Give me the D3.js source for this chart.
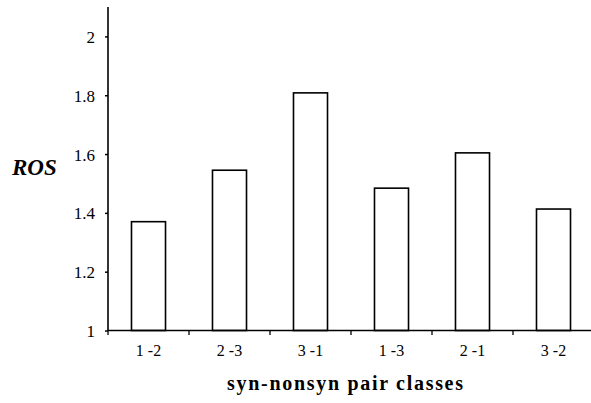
<!DOCTYPE html>
<html>
<head>
<meta charset="utf-8">
<script src="https://cdn.jsdelivr.net/npm/d3@7/dist/d3.min.js"></script>
<style>
  html, body { margin: 0; padding: 0; background: #fff; }
  svg { display: block; }
  text { font-family: "Liberation Serif", "Times New Roman", serif; fill: #000; }
</style>
</head>
<body>
<svg id="chart" width="591" height="403"></svg>
<script>
// ROS per synonymous / nonsynonymous pair class
const categories = ["1-2", "2-3", "3-1", "1-3", "2-1", "3-2"];
const rosValues = [1.37, 1.545, 1.808, 1.484, 1.604, 1.413];
const yTicks = [1, 1.2, 1.4, 1.6, 1.8, 2];

const svg = d3.select("#chart");
const serif = '"Liberation Serif", "Times New Roman", serif';

const x = d3.scaleBand()
  .domain(categories)
  .range([108, 594])
  .paddingInner(0.58)
  .paddingOuter(0.29);

const y = d3.scaleLinear()
  .domain([1, 2.1])
  .range([330.5, 7]);

// bars
svg.append("g")
  .selectAll("rect")
  .data(categories)
  .join("rect")
  .attr("x", d => x(d))
  .attr("width", x.bandwidth())
  .attr("y", (d, i) => y(rosValues[i]))
  .attr("height", (d, i) => y(1) - y(rosValues[i]))
  .attr("fill", "#fff")
  .attr("stroke", "#000")
  .attr("stroke-width", 1.6);

// y axis
const yAxis = svg.append("g")
  .attr("transform", `translate(${x.range()[0]},0)`)
  .attr("font-family", serif)
  .attr("font-size", 17)
  .call(d3.axisLeft(y).tickValues(yTicks).tickFormat(d3.format("")).tickSize(3).tickPadding(10));
yAxis.attr("font-family", serif).attr("font-size", 17);
yAxis.select(".domain").attr("d", `M0,${y(2.1)}V${y(1)}`).attr("stroke-width", 1.6);
yAxis.selectAll(".tick line").attr("stroke-width", 1.5);
yAxis.selectAll(".tick text").attr("dy", "0.36em");

// x axis with ticks on category boundaries
const xAxis = svg.append("g")
  .attr("transform", `translate(0,${y(1)})`);
xAxis.append("line")
  .attr("x1", x.range()[0]).attr("x2", 591)
  .attr("stroke", "#000").attr("stroke-width", 1.6);
const step = x.step();
xAxis.selectAll(".bound")
  .data(categories)
  .join("line")
  .attr("class", "bound")
  .attr("x1", d => x(d) - step * x.paddingInner() / 2)
  .attr("x2", d => x(d) - step * x.paddingInner() / 2)
  .attr("y1", 0).attr("y2", 4.5)
  .attr("stroke", "#000").attr("stroke-width", 1.3);
xAxis.selectAll(".lab")
  .data(categories)
  .join("text")
  .attr("class", "lab")
  .attr("x", d => x(d) + x.bandwidth() / 2)
  .attr("y", 25)
  .attr("text-anchor", "middle")
  .style("font-size", "16px")
  .text(d => d.replace("-", " -"));

// axis titles
svg.append("text")
  .attr("x", 345).attr("y", 390)
  .attr("text-anchor", "middle")
  .attr("textLength", 236)
  .attr("lengthAdjust", "spacing")
  .style("font-size", "20px")
  .style("font-weight", "bold")
  .text("syn-nonsyn pair classes");

svg.append("text")
  .attr("x", 12).attr("y", 175)
  .style("font-size", "23px")
  .style("font-weight", "bold")
  .style("font-style", "italic")
  .text("ROS");
</script>
</body>
</html>
